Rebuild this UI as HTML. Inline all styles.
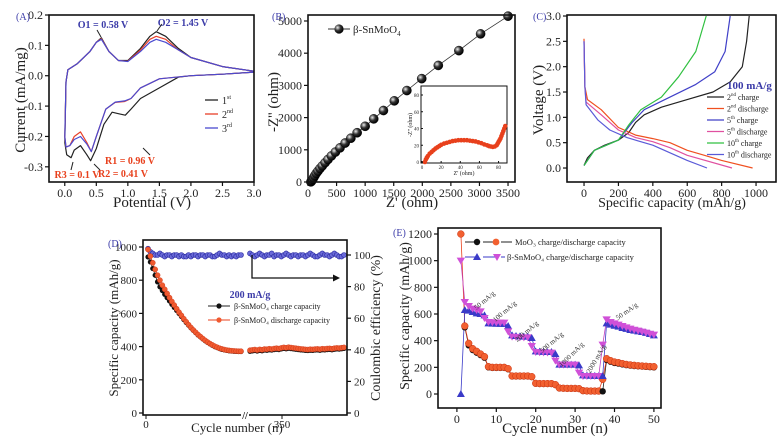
<!DOCTYPE html>
<html><head><meta charset="utf-8"><style>
html,body{margin:0;padding:0;background:#fff;}
svg{display:block;}
svg text{font-family:"Liberation Serif","DejaVu Serif",serif;}
</style></head><body>
<svg id="fig" width="783" height="443" viewBox="0 0 783 443" xmlns="http://www.w3.org/2000/svg">
<defs>
<radialGradient id="ball" cx="35%" cy="35%" r="65%"><stop offset="0" stop-color="#eee"/><stop offset="0.5" stop-color="#333"/><stop offset="1" stop-color="#000"/></radialGradient>
</defs>
</svg>
<script>
// ---------- DATA ----------
const cv1X=[3.0,2.5,2.0,1.8,1.5,1.2,1.05,0.96,0.85,0.75,0.62,0.5,0.41,0.35,0.25,0.15,0.1,0.03,0.0,0.02,0.05,0.2,0.4,0.5,0.58,0.7,0.85,1.0,1.2,1.35,1.45,1.6,1.8,2.0,2.5,3.0];
const cv1Y=[0.012,0.005,0.0,-0.005,-0.04,-0.075,-0.11,-0.13,-0.125,-0.12,-0.16,-0.24,-0.28,-0.26,-0.23,-0.245,-0.27,-0.26,-0.22,-0.02,0.02,0.04,0.08,0.11,0.125,0.08,0.05,0.05,0.09,0.13,0.145,0.13,0.09,0.06,0.03,0.015];
const cv2X=[3.0,2.5,2.0,1.5,1.2,1.05,0.95,0.8,0.65,0.5,0.42,0.35,0.25,0.15,0.08,0.02,0.0,0.02,0.05,0.2,0.4,0.5,0.58,0.7,0.85,1.0,1.2,1.35,1.45,1.6,1.8,2.0,2.5,3.0];
const cv2Y=[0.012,0.005,0.0,-0.01,-0.04,-0.075,-0.085,-0.088,-0.11,-0.2,-0.25,-0.22,-0.185,-0.2,-0.23,-0.235,-0.2,-0.02,0.02,0.04,0.08,0.11,0.122,0.08,0.05,0.048,0.085,0.12,0.13,0.12,0.085,0.06,0.03,0.015];
const cv3X=[3.0,2.5,2.0,1.5,1.2,1.05,0.95,0.8,0.65,0.5,0.42,0.35,0.25,0.15,0.08,0.02,0.0,0.02,0.05,0.2,0.4,0.5,0.58,0.7,0.85,1.0,1.2,1.35,1.45,1.6,1.8,2.0,2.5,3.0];
const cv3Y=[0.012,0.005,0.0,-0.01,-0.04,-0.075,-0.083,-0.087,-0.11,-0.2,-0.25,-0.225,-0.2,-0.21,-0.23,-0.235,-0.2,-0.02,0.02,0.04,0.08,0.11,0.12,0.08,0.05,0.047,0.08,0.11,0.12,0.11,0.085,0.06,0.03,0.015];
const nyZr=[50,60,70,85,100,120,145,175,210,250,300,350,410,480,560,650,750,860,1000,1150,1320,1510,1730,1990,2280,2640,3020,3500];
const nyZi=[5,20,50,90,140,200,270,340,420,500,600,700,810,930,1060,1210,1360,1530,1730,1960,2220,2520,2840,3210,3620,4080,4600,5150];
const inZr=[3,4,5,6,8,10,12,14,16,18,20,23,26,29,32,35,38,41,44,47,50,53,56,59,62,65,68,70,72,74,76,78,79,80,81,82,83,84,85,86,87];
const inZi=[0,3,5,7,10,12,14,16,17.5,19,20.5,22,23,24,25,25.5,26,26,26,26,25.5,25,24.5,23.5,22.5,21,20,19,18.5,18,18.5,20,22,24,26,28,31,34,37,40,43];
const c2chX=[0,20,60,120,200,260,300,350,450,600,750,850,920,945,960];
const c2chY=[0.05,0.2,0.35,0.45,0.55,0.7,0.9,1.05,1.2,1.35,1.5,1.7,2.0,2.5,3.0];
const c2disX=[0,5,20,100,200,300,400,500,600,700,800,980];
const c2disY=[2.55,1.6,1.35,1.15,0.8,0.65,0.58,0.5,0.35,0.25,0.15,0.0];
const c5chX=[0,60,200,280,350,500,650,760,820,850];
const c5chY=[0.05,0.35,0.55,0.9,1.15,1.4,1.65,1.9,2.3,3.0];
const c5disX=[0,5,12,100,200,300,400,500,600,860];
const c5disY=[2.5,1.6,1.3,1.05,0.75,0.6,0.52,0.4,0.25,0.0];
const c10chX=[0,60,200,260,330,450,550,650,710];
const c10chY=[0.05,0.35,0.55,0.85,1.15,1.4,1.8,2.3,3.0];
const c10disX=[0,5,12,80,150,250,400,500,600,715];
const c10disY=[2.5,1.6,1.25,0.95,0.75,0.6,0.45,0.3,0.15,0.0];
const dDisL=[985,945,905,865,830,800,770,745,720,695,672,650,628,607,588,568,550,532,515,500,486,472,460,448,437,427,418,410,402,396,390,386,382,379,377,375,374,373,372,372];
const dChL=[940,910,870,830,790,760,738,715,695,675,655,636,618,600,582,563,546,529,513,498,484,470,458,446,435,425,416,408,400,394,388,383,380,377,375,373,372,371,370,370];
const dDisR=[378,380,382,379,383,381,385,384,387,385,388,390,388,392,395,393,396,394,392,390,388,386,385,383,382,384,383,385,386,384,387,386,388,389,387,390,392,391,393,395];
const dChR=[372,374,376,373,377,375,379,378,381,379,382,384,382,386,389,387,390,388,386,384,382,380,379,377,376,378,377,379,380,378,381,380,382,383,381,384,386,385,387,389];
const dCEL=[104,102,101,100,100,101,100,99,100,100,99,100,100,99,100,99,99,100,99,100,100,99,100,100,99,100,100,99,99,100,101,100,100,99,100,99,100,99,100,100];
const dCER=[101,100,99,100,101,100,99,100,100,101,99,100,100,99,100,101,100,99,100,100,99,100,100,99,100,101,100,99,99,100,101,100,100,99,100,101,100,99,99,100];
const eCyc=[1,2,3,4,5,6,7,8,9,10,11,12,13,14,15,16,17,18,19,20,21,22,23,24,25,26,27,28,29,30,31,32,33,34,35,36,37,38,39,40,41,42,43,44,45,46,47,48,49,50];
const eMoDis=[1200,510,380,340,320,300,280,205,200,200,200,200,190,135,135,135,135,135,130,80,78,78,78,78,70,45,43,42,42,42,40,25,23,22,22,22,110,265,250,240,235,228,222,218,215,212,210,208,206,205];
const eMoCh=[null,500,365,330,310,292,272,200,196,196,196,196,186,132,132,132,132,132,128,78,76,76,76,76,68,43,42,41,41,41,39,23,22,21,21,21,20,255,242,233,228,222,217,213,210,208,206,204,202,200];
const eSnCh=[0,630,625,615,605,600,590,530,528,527,526,525,510,440,435,432,430,430,420,320,318,316,315,315,300,220,220,220,220,220,215,140,138,137,136,135,135,530,520,512,505,495,488,480,475,470,465,458,450,440];
const eSnDis=[1000,690,660,640,630,620,570,540,538,536,535,535,470,430,428,426,425,425,360,315,313,312,311,310,250,220,220,220,220,220,160,135,135,135,135,135,370,560,540,530,520,510,500,490,482,475,468,460,452,445];

// ---------- HELPERS ----------
const NS='http://www.w3.org/2000/svg';
const svg=document.getElementById('fig');
function mk(tag,attrs,name,parent){
  const el=document.createElementNS(NS,tag);
  for(const k in attrs) el.setAttribute(k,attrs[k]);
  
  
  (parent||svg).appendChild(el);
  return el;
}
function txt(x,y,s,name,opt,parent){
  opt=opt||{};
  const el=mk('text',{x:x,y:y,'font-size':opt.fs||11,'text-anchor':opt.a||'middle',fill:opt.c||'#222','font-weight':opt.w||'normal','font-family':'Liberation Serif, serif'},name,parent);
  if(opt.rot!==undefined) el.setAttribute('transform','rotate('+opt.rot+' '+x+' '+y+')');
  if(opt.fst) el.setAttribute('font-style',opt.fst);
  el.textContent=s;
  return el;
}
function lin(d0,d1,r0,r1){return v=>r0+(v-d0)/(d1-d0)*(r1-r0);}
function box(b,name){mk('rect',{x:b.l,y:b.t,width:b.r-b.l,height:b.b-b.t,fill:'none',stroke:'#111','stroke-width':1.6},name);}
function xticks(vals,labels,sx,b,name,fs){
  vals.forEach((v,i)=>{
    const x=sx(v);
    mk('line',{x1:x,x2:x,y1:b.b,y2:b.b+4,stroke:'#111','stroke-width':1.2},name+'-tick');
    txt(x,b.b+15,labels[i],name+'-label',{fs:fs||12});
  });
}
function yticks(vals,labels,sy,b,name,fs,right){
  vals.forEach((v,i)=>{
    const y=sy(v);
    if(right){
      mk('line',{x1:b.r,x2:b.r+4,y1:y,y2:y,stroke:'#111','stroke-width':1.2},name+'-tick');
      txt(b.r+7,y+4,labels[i],name+'-label',{fs:fs||12,a:'start'});
    } else {
      mk('line',{x1:b.l-4,x2:b.l,y1:y,y2:y,stroke:'#111','stroke-width':1.2},name+'-tick');
      txt(b.l-6,y+4,labels[i],name+'-label',{fs:fs||12,a:'end'});
    }
  });
}
function path(xs,ys,sx,sy,color,name,w){
  let d='';
  xs.forEach((x,i)=>{ if(ys[i]===null) return; d+=(d?'L':'M')+sx(x).toFixed(1)+','+sy(ys[i]).toFixed(1);});
  return mk('path',{d:d,fill:'none',stroke:color,'stroke-width':w||1.2,'stroke-linejoin':'round'},name);
}
const BLUE='#3b3ba8', RED='#e8401c';

// ---------- PANEL A ----------
(function(){
  const b={l:49,r:254,t:15,b:182};
  const sx=lin(-0.25,3.0,b.l,b.r), sy=lin(-0.35,0.2,b.b,b.t);
  path(cv1X,cv1Y,sx,sy,'#222','cv-cycle1');
  path(cv2X,cv2Y,sx,sy,'#e8402a','cv-cycle2');
  path(cv3X,cv3Y,sx,sy,'#4a4ad0','cv-cycle3');
  box(b,'panel-a-frame');
  xticks([0,0.5,1,1.5,2,2.5,3],['0.0','0.5','1.0','1.5','2.0','2.5','3.0'],sx,b,'a-x');
  yticks([-0.3,-0.2,-0.1,0,0.1,0.2],['-0.3','-0.2','-0.1','0.0','0.1','0.2'],sy,b,'a-y');
  txt(16,20,'(A)','panel-a-label',{fs:10,c:BLUE,a:'start'});
  txt(152,207,'Potential (V)','a-x-title',{fs:15});
  txt(25,100,'Current (mA/mg)','a-y-title',{fs:15,rot:-90});
  txt(103,28,'O1 = 0.58 V','o1-annotation',{fs:10,c:BLUE,w:'bold'});
  txt(183,26,'O2 = 1.45 V','o2-annotation',{fs:10,c:BLUE,w:'bold'});
  mk('line',{x1:97,y1:30,x2:101,y2:37,stroke:'#222'},'o1-arrow');
  mk('line',{x1:162,y1:24,x2:157,y2:31,stroke:'#222'},'o2-arrow');
  txt(130,164,'R1 = 0.96 V','r1-annotation',{fs:10,c:RED,w:'bold'});
  txt(123,177,'R2 = 0.41 V','r2-annotation',{fs:10,c:RED,w:'bold'});
  txt(77,178,'R3 = 0.1 V','r3-annotation',{fs:10,c:RED,w:'bold'});
  mk('line',{x1:150,y1:155,x2:143,y2:148,stroke:'#222'},'r1-arrow');
  mk('line',{x1:100,y1:170,x2:94,y2:164,stroke:'#222'},'r2-arrow');
  mk('line',{x1:71,y1:170,x2:73,y2:162,stroke:'#222'},'r3-arrow');
  const leg=[['#222','1st'],['#e8402a','2nd'],['#4a4ad0','3rd']];
  leg.forEach((e,i)=>{
    const y=100+i*14;
    mk('line',{x1:205,x2:218,y1:y,y2:y,stroke:e[0],'stroke-width':1.3},'a-legend-line');
    const t=txt(222,y+4,e[1].slice(0,1),'a-legend-entry',{fs:10,a:'start'});
    const ts=document.createElementNS(NS,'tspan');ts.setAttribute('font-size','6');ts.setAttribute('dy','-5');ts.textContent=e[1].slice(1);t.appendChild(ts);
  });
})();

// ---------- PANEL B ----------
(function(){
  const b={l:308,r:515,t:15,b:182};
  const sx=lin(0,3622,b.l,b.r), sy=lin(0,5186,b.b,b.t);
  path(nyZr,nyZi,sx,sy,'#333','nyquist-line',0.8);
  nyZr.forEach((v,i)=>{
    mk('circle',{cx:sx(v),cy:sy(nyZi[i]),r:4.6,fill:'url(#ball)',stroke:'#000','stroke-width':0.4},'nyquist-point');
  });
  box(b,'panel-b-frame');
  xticks([0,500,1000,1500,2000,2500,3000,3500],['0','500','1000','1500','2000','2500','3000','3500'],sx,b,'b-x');
  yticks([0,1000,2000,3000,4000,5000],['0','1000','2000','3000','4000','5000'],sy,b,'b-y');
  txt(272,20,'(B)','panel-b-label',{fs:10,c:BLUE,a:'start'});
  txt(412,207,"Z' (ohm)",'b-x-title',{fs:15});
  txt(278,102,"-Z'' (ohm)",'b-y-title',{fs:15,rot:-90});
  mk('line',{x1:328,x2:350,y1:29,y2:29,stroke:'#333'},'b-legend-line');
  mk('circle',{cx:339,cy:29,r:4.6,fill:'url(#ball)'},'b-legend-marker');
  const lt=txt(353,33,'β-SnMoO','b-legend-entry',{fs:11,a:'start'});
  const sb=document.createElementNS(NS,'tspan');sb.setAttribute('font-size','7');sb.setAttribute('dy','3');sb.textContent='4';lt.appendChild(sb);
  const ib={l:421,r:507,t:86,b:163};
  mk('rect',{x:ib.l,y:ib.t,width:ib.r-ib.l,height:ib.b-ib.t,fill:'#fff',stroke:'#111','stroke-width':1},'inset-frame');
  const ix=lin(0,90,ib.l+1,ib.l+1+88*(78.3/80)), iy=lin(0,80,162,95);
  inZr.forEach((v,i)=>{mk('circle',{cx:ix(v),cy:iy(inZi[i]),r:2.3,fill:RED},'inset-point');});
  [0,20,40,60,80].forEach(v=>{
    mk('line',{x1:ix(v),x2:ix(v),y1:ib.b,y2:ib.b-2,stroke:'#111'},'inset-x-tick');
    txt(ix(v),ib.b+6,String(v),'inset-x-label',{fs:5});
    mk('line',{x1:ib.l,x2:ib.l+2,y1:iy(v),y2:iy(v),stroke:'#111'},'inset-y-tick');
    txt(ib.l-2,iy(v)+2,String(v),'inset-y-label',{fs:5,a:'end'});
  });
  txt(464,175,"Z' (ohm)",'inset-x-title',{fs:6});
  txt(412,125,"-Z'' (ohm)",'inset-y-title',{fs:6,rot:-90});
})();

// ---------- PANEL C ----------
(function(){
  const b={l:567,r:776,t:15,b:182};
  const sx=lin(-99,1116,b.l,b.r), sy=lin(-0.276,3.02,b.b,b.t);
  path(c2chX,c2chY,sx,sy,'#222','c-2nd-charge');
  path(c2disX,c2disY,sx,sy,'#f05020','c-2nd-discharge');
  path(c5chX,c5chY,sx,sy,'#4040c8','c-5th-charge');
  path(c5disX,c5disY,sx,sy,'#e050a0','c-5th-discharge');
  path(c10chX,c10chY,sx,sy,'#30c040','c-10th-charge');
  path(c10disX,c10disY,sx,sy,'#5a5ad8','c-10th-discharge');
  box(b,'panel-c-frame');
  xticks([0,200,400,600,800,1000],['0','200','400','600','800','1000'],sx,b,'c-x');
  yticks([0,0.5,1,1.5,2,2.5,3],['0.0','0.5','1.0','1.5','2.0','2.5','3.0'],sy,b,'c-y');
  txt(533,20,'(C)','panel-c-label',{fs:10,c:BLUE,a:'start'});
  txt(672,207,'Specific capacity (mAh/g)','c-x-title',{fs:14});
  txt(543,100,'Voltage (V)','c-y-title',{fs:15,rot:-90});
  txt(727,89,'100 mA/g','c-rate-label',{fs:11,c:BLUE,a:'start',w:'bold'});
  const leg=[['#222','2','nd',' charge'],['#f05020','2','nd',' discharge'],['#4040c8','5','th',' charge'],['#e050a0','5','th',' discharge'],['#30c040','10','th',' charge'],['#5a5ad8','10','th',' discharge']];
  leg.forEach((e,i)=>{
    const y=97+i*11.5;
    mk('line',{x1:707,x2:724,y1:y,y2:y,stroke:e[0],'stroke-width':1.3},'c-legend-line');
    const t=txt(727,y+3,e[1],'c-legend-entry',{fs:8,a:'start'});
    const s1=document.createElementNS(NS,'tspan');s1.setAttribute('font-size','5');s1.setAttribute('dy','-4');s1.textContent=e[2];t.appendChild(s1);
    const s2=document.createElementNS(NS,'tspan');s2.setAttribute('dy','4');s2.textContent=e[3];t.appendChild(s2);
  });
})();

// ---------- PANEL D ----------
(function(){
  const b={l:143,r:347,t:240,b:415};
  const sxL=lin(0,39,148,241), sxR=lin(0,39,250,344);
  const sy=lin(0,1000,413,247), sy2=lin(0,100,413,255);
  const idx=dDisL.map((_,i)=>i);
  path(idx,dCEL,sxL,sy2,BLUE,'d-ce-line-left',0.8);
  path(idx,dCER,sxR,sy2,BLUE,'d-ce-line-right',0.8);
  idx.forEach(i=>{
    mk('circle',{cx:sxL(i),cy:sy2(dCEL[i]),r:2.5,fill:'#6a6ad8',stroke:'#2a2aa0','stroke-width':0.6},'d-ce-point');
    mk('circle',{cx:sxR(i),cy:sy2(dCER[i]),r:2.5,fill:'#6a6ad8',stroke:'#2a2aa0','stroke-width':0.6},'d-ce-point');
  });
  path(idx,dChL,sxL,sy,'#222','d-charge-line-left',0.8);
  path(idx,dChR,sxR,sy,'#222','d-charge-line-right',0.8);
  idx.forEach(i=>{
    mk('circle',{cx:sxL(i),cy:sy(dChL[i]),r:2.6,fill:'#111'},'d-charge-point');
    mk('circle',{cx:sxR(i),cy:sy(dChR[i]),r:2.6,fill:'#111'},'d-charge-point');
  });
  path(idx,dDisL,sxL,sy,RED,'d-discharge-line-left',0.8);
  path(idx,dDisR,sxR,sy,RED,'d-discharge-line-right',0.8);
  idx.forEach(i=>{
    mk('circle',{cx:sxL(i),cy:sy(dDisL[i]),r:2.6,fill:'#f05a30',stroke:'#c83010','stroke-width':0.4},'d-discharge-point');
    mk('circle',{cx:sxR(i),cy:sy(dDisR[i]),r:2.6,fill:'#f05a30',stroke:'#c83010','stroke-width':0.4},'d-discharge-point');
  });
  box(b,'panel-d-frame');
  mk('rect',{x:241,y:410,width:8,height:10,fill:'#fff'},'d-axis-break-gap');
  txt(245,419,'//','d-axis-break',{fs:10,w:'bold'});
  [[146,'0'],[282,'350']].forEach(t=>{
    mk('line',{x1:t[0],x2:t[0],y1:b.b,y2:b.b+4,stroke:'#111'},'d-x-tick');
    txt(t[0],b.b+13,t[1],'d-x-label',{fs:11});
  });
  yticks([0,200,400,600,800,1000],['0','200','400','600','800','1000'],sy,b,'d-y',11);
  yticks([0,20,40,60,80,100],['0','20','40','60','80','100'],sy2,b,'d-y2',11,true);
  txt(108,247,'(D)','panel-d-label',{fs:10,c:BLUE,a:'start'});
  txt(237,432,'Cycle number (n)','d-x-title',{fs:13});
  txt(118,328,'Specific capacity (mAh/g)','d-y-title',{fs:13,rot:-90});
  txt(380,328,'Coulombic efficiency (%)','d-y2-title',{fs:14,rot:-90});
  mk('path',{d:'M252,255 L252,278 L338,278',fill:'none',stroke:'#111','stroke-width':1.3},'d-arrow');
  mk('path',{d:'M340,278 L333,274.5 L333,281.5 Z',fill:'#111'},'d-arrowhead');
  txt(250,298,'200 mA/g','d-rate-label',{fs:10,c:BLUE,w:'bold'});
  mk('line',{x1:208,x2:230,y1:306,y2:306,stroke:'#222'},'d-legend-line');
  mk('circle',{cx:219,cy:306,r:2.6,fill:'#111'},'d-legend-marker');
  mk('line',{x1:208,x2:230,y1:320,y2:320,stroke:RED},'d-legend-line');
  mk('circle',{cx:219,cy:320,r:2.6,fill:'#f05a30'},'d-legend-marker');
  txt(234,309,'β-SnMoO₄ charge capacity','d-legend-charge',{fs:8,a:'start'});
  txt(234,323,'β-SnMoO₄ discharge capacity','d-legend-discharge',{fs:8,a:'start'});
})();

// ---------- PANEL E ----------
(function(){
  const b={l:438,r:661,t:228,b:408};
  const sx=lin(-4.8,51.8,b.l,b.r), sy=lin(-105,1245,b.b,b.t);
  path(eCyc,eMoCh,sx,sy,'#222','e-moo3-charge-line',0.8);
  path(eCyc,eMoDis,sx,sy,RED,'e-moo3-discharge-line',0.8);
  path(eCyc,eSnCh,sx,sy,'#3a3ac8','e-sn-charge-line',0.8);
  path(eCyc,eSnDis,sx,sy,'#c040c0','e-sn-discharge-line',0.8);
  eCyc.forEach((c,i)=>{
    if(eMoCh[i]!==null) mk('circle',{cx:sx(c),cy:sy(eMoCh[i]),r:3.2,fill:'#111'},'e-moo3-charge-point');
    mk('circle',{cx:sx(c),cy:sy(eMoDis[i]),r:3.4,fill:'#f26030',stroke:'#c83010','stroke-width':0.5},'e-moo3-discharge-point');
    const x=sx(c), y=sy(eSnCh[i]);
    mk('path',{d:'M'+x+','+(y-4)+' L'+(x+4)+','+(y+3)+' L'+(x-4)+','+(y+3)+' Z',fill:'#3a3ac8'},'e-sn-charge-point');
    const y2=sy(eSnDis[i]);
    mk('path',{d:'M'+x+','+(y2+4)+' L'+(x+4.2)+','+(y2-3)+' L'+(x-4.2)+','+(y2-3)+' Z',fill:'#d050d8'},'e-sn-discharge-point');
  });
  box(b,'panel-e-frame');
  xticks([0,10,20,30,40,50],['0','10','20','30','40','50'],sx,b,'e-x',12);
  yticks([0,200,400,600,800,1000,1200],['0','200','400','600','800','1000','1200'],sy,b,'e-y',12);
  txt(393,236,'(E)','panel-e-label',{fs:10,c:BLUE,a:'start'});
  txt(555,433,'Cycle number (n)','e-x-title',{fs:15});
  txt(409,316,'Specific capacity (mAh/g)','e-y-title',{fs:14,rot:-90});
  mk('line',{x1:465,x2:512,y1:242,y2:242,stroke:'#222','stroke-dasharray':'14 4'},'e-legend-line');
  mk('circle',{cx:477,cy:242,r:3.2,fill:'#111'},'e-legend-marker');
  mk('circle',{cx:496,cy:242,r:3.4,fill:'#f26030'},'e-legend-marker');
  txt(515,245,'MoO₃ charge/discharge capacity','e-legend-moo3',{fs:8.5,a:'start'});
  mk('line',{x1:465,x2:505,y1:257,y2:257,stroke:'#3a3ac8','stroke-dasharray':'14 4'},'e-legend-line');
  mk('path',{d:'M477,253 L481,260 L473,260 Z',fill:'#3a3ac8'},'e-legend-marker');
  mk('path',{d:'M497,261 L501,254 L493,254 Z',fill:'#d050d8'},'e-legend-marker');
  txt(507,260,'β-SnMoO₄ charge/discharge capacity','e-legend-sn',{fs:8.5,a:'start'});
  const ann=[[486,302,'50 mA/g',-40],[506,313,'100 mA/g',-40],[528,333,'200 mA/g',-40],[553,344,'500 mA/g',-40],[573,356,'1000 mA/g',-45],[598,360,'2000 mA/g',-60],[628,313,'50 mA/g',-35]];
  ann.forEach(a=>{txt(a[0],a[1],a[2],'e-rate-annotation',{fs:7,rot:a[3],c:'#333'});});
})();
</script>
</body></html>
